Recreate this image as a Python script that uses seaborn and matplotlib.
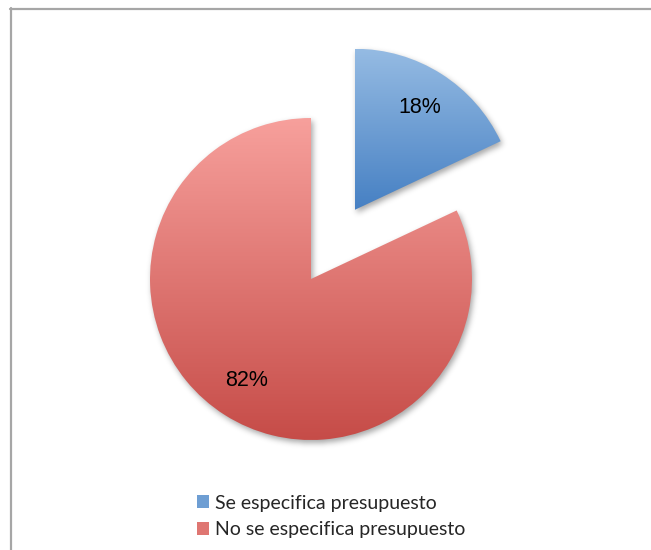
import numpy as np
import matplotlib
matplotlib.use("Agg")
import matplotlib.pyplot as plt
import seaborn as sns
from matplotlib.colors import LinearSegmentedColormap, to_rgb
from matplotlib.lines import Line2D
from matplotlib.patches import Rectangle

# Data
categories = ["Se especifica presupuesto", "No se especifica presupuesto"]
shares = [18, 82]
top_colors = ["#95BBE3", "#F7A09C"]
bottom_colors = ["#4680C3", "#C64C48"]

sns.set_theme(style="white")
plt.rcParams["font.family"] = ["Liberation Sans", "DejaVu Sans"]

W, H = 651, 550
fig = plt.figure(figsize=(W / 100, H / 100), dpi=100)
ax = fig.add_axes([0, 0, 1, 1])

radius = 161
center = (311, H - 279)
wedges, texts, autotexts = ax.pie(
    shares, startangle=90, counterclock=False,
    explode=[82, 0], radius=radius, center=center,
    autopct=lambda p: f"{p:.0f}%", pctdistance=0.75,
    textprops=dict(fontsize=15.5, color="black"),
)
ax.set_xlim(0, W)
ax.set_ylim(0, H)
ax.set_aspect("equal")
ax.axis("off")

# Soft drop shadow under the slices
yy, xx = np.mgrid[0:H, 0:W]
pts = np.column_stack([xx.ravel() + 0.5, yy.ravel() + 0.5])
mask = np.zeros(H * W, dtype=float)
for w in wedges:
    mask = np.maximum(mask, w.get_path().contains_points(pts))
mask = mask.reshape(H, W)

def blur(img, sigma):
    k = int(3 * sigma)
    g = np.exp(-0.5 * (np.arange(-k, k + 1) / sigma) ** 2)
    g /= g.sum()
    img = np.apply_along_axis(lambda r: np.convolve(r, g, mode="same"), 1, img)
    img = np.apply_along_axis(lambda c: np.convolve(c, g, mode="same"), 0, img)
    return img

shadow = blur(mask, 3.0)
shadow = np.roll(np.roll(shadow, -3, axis=0), 2, axis=1)
rgba = np.zeros((H, W, 4))
rgba[..., 3] = shadow * 0.35
ax.imshow(rgba, extent=(0, W, 0, H), origin="lower", zorder=0.5,
          interpolation="bilinear")

# Vertical gradient fill clipped to each slice
for w, c_top, c_bot in zip(wedges, top_colors, bottom_colors):
    bb = w.get_path().get_extents()
    cmap = LinearSegmentedColormap.from_list("g", [c_bot, c_top])
    grad = np.linspace(0, 1, 256).reshape(-1, 1)
    im = ax.imshow(grad, cmap=cmap, aspect="auto", origin="lower",
                   extent=(bb.x0, bb.x1, bb.y0, bb.y1), zorder=1,
                   interpolation="bilinear")
    im.set_clip_path(w)
    w.set_facecolor("none")
    w.set_edgecolor("none")

for t in autotexts:
    t.set_zorder(5)

ax.set_xlim(0, W)
ax.set_ylim(0, H)

# Legend
handles = [Rectangle((0, 0), 1, 1, facecolor=tuple(0.5 * (np.array(to_rgb(a)) + np.array(to_rgb(b)))),
                     edgecolor="none")
           for a, b in zip(top_colors, bottom_colors)]
fig.legend(handles, categories, loc="upper left",
           bbox_to_anchor=(189 / W, 1 - 487 / H), frameon=False,
           prop=dict(family=["Lato", "DejaVu Sans"], size=14),
           handlelength=0.65, handleheight=0.65, handletextpad=0.3,
           labelspacing=0.5, borderaxespad=0)

# Chart-area border (top and left edges)
fig.add_artist(Line2D([10.5 / W, 10.5 / W], [0, 1 - 8 / H], color="#A6A6A6",
                      lw=1.6, transform=fig.transFigure))
fig.add_artist(Line2D([10 / W, 1], [1 - 8.5 / H, 1 - 8.5 / H], color="#A6A6A6",
                      lw=1.6, transform=fig.transFigure))

fig.savefig("out.png", dpi=100)
